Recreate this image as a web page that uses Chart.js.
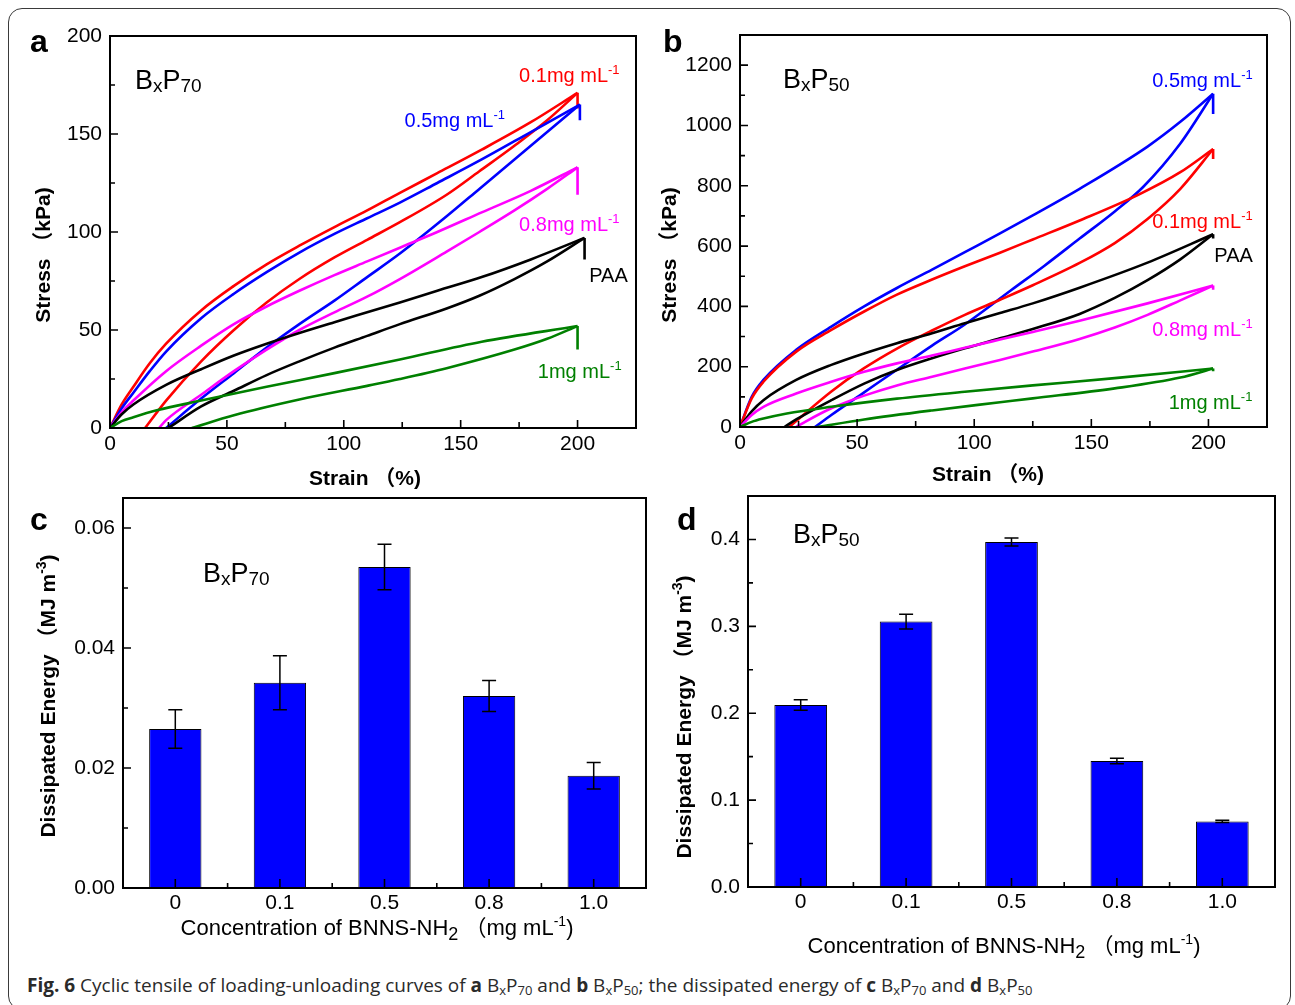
<!DOCTYPE html>
<html>
<head>
<meta charset="utf-8">
<script src="https://cdn.jsdelivr.net/npm/chart.js@4.4.1/dist/chart.umd.min.js"></script>
<style>
  body { margin: 0; background: #fff; }
  #page { position: relative; width: 1295px; height: 1005px; overflow: hidden; }
  #box { position: absolute; left: 8px; top: 8px; width: 1281px; height: 1000px;
         border: 1.5px solid #3a3a3a; border-radius: 14px; }
  canvas { position: absolute; }
  #cap { position: absolute; left: 27px; top: 972px; font-family: "Open Sans", sans-serif;
         font-size: 19px; color: #2a2a2a; white-space: nowrap; }
  #cap sub { font-size: 13px; vertical-align: -3px; line-height: 0; }
</style>
</head>
<body>
<div id="page">
  <div id="box"></div>
  <canvas id="pa" width="648" height="490" style="left:0;top:0"></canvas>
  <canvas id="pb" width="647" height="490" style="left:648px;top:0"></canvas>
  <canvas id="pc" width="648" height="470" style="left:0;top:490px"></canvas>
  <canvas id="pd" width="647" height="470" style="left:648px;top:490px"></canvas>
  <div id="cap"><b>Fig. 6</b> Cyclic tensile of loading-unloading curves of <b>a</b> B<sub>x</sub>P<sub>70</sub> and <b>b</b> B<sub>x</sub>P<sub>50</sub>; the dissipated energy of <b>c</b> B<sub>x</sub>P<sub>70</sub> and <b>d</b> B<sub>x</sub>P<sub>50</sub></div>
</div>
<script>
// ---- panel a: B_xP_70 loading / unloading loops, [strain %, stress kPa]
const aRedLoad = [[0,0],[5,12],[10,21],[17,33],[24,43],[39,60],[53,72.5],[67,83.5],[81,93],[96,102.5],[110,111],[124,120],[140,130],[159,142],[180,156],[200,171]];
const aRedUnload = [[200,171],[187,157],[173,144],[158,131],[144,119],[124,105],[110,96],[96,87],[81,76],[67,64],[53,50],[39,34],[24,14],[15,0]];
const aBlueLoad = [[0,0],[5,10],[10,18],[17,29],[24,39],[39,56],[53,68.5],[67,79.5],[81,89.5],[96,99],[110,107],[124,115],[140,125],[159,137],[180,151],[201,165]];
const aBlueUnload = [[201,165],[187,151],[173,137],[158,122],[144,108],[124,89],[110,77],[96,65],[81,53],[67,41],[53,28],[39,15],[24,0]];
const aMagentaLoad = [[0,0],[5,8],[10,14],[24,29],[39,42],[53,53],[67,62],[81,70],[96,78],[110,85],[124,92],[140,100],[159,110],[180,121],[200,133]];
const aMagentaUnload = [[200,133],[187,122],[173,111],[158,100],[144,90],[124,76],[110,67],[96,59],[81,50],[67,40],[53,29],[39,17],[24,4],[21,0]];
const aBlackLoad = [[0,0],[5,7],[10,12],[24,22],[39,30],[53,37],[67,43],[81,48.5],[96,54],[110,59],[124,64],[140,70],[159,77],[180,86],[203,97]];
const aBlackUnload = [[203,97],[187,85],[173,76],[158,67.5],[144,61],[124,53],[110,47],[96,41],[81,34],[67,27],[53,19],[39,11],[25,0]];
const aGreenLoad = [[0,0],[5,3.5],[10,5.5],[20,9],[39,14],[67,21],[96,28],[124,35],[159,44],[200,52]];
const aGreenUnload = [[200,52],[187,45.5],[173,40],[144,30.5],[124,25],[110,21.5],[81,14.5],[53,6.5],[35,0]];
// stress after the hold at max strain: red, blue, magenta, black, green
const aDrop = [163, 157, 119, 86, 40];

// ---- panel b: B_xP_50
const bRedLoad = [[0,0],[5,95],[10,150],[24,250],[39,322],[53,383],[67,439],[82,489],[96,533],[111,578],[125,622],[145,685],[170,770],[188,845],[202,922]];
const bRedUnload = [[202,922],[188,790],[174,690],[160,610],[145,544],[125,470],[111,422],[96,372],[82,320],[67,260],[53,195],[39,118],[24,20],[21,0]];
const bBlueLoad = [[0,0],[5,100],[10,156],[24,256],[39,333],[53,400],[67,461],[82,522],[96,580],[111,642],[125,702],[145,790],[174,930],[188,1012],[202,1105]];
const bBlueUnload = [[202,1105],[188,940],[172,795],[160,715],[145,625],[130,535],[116,455],[96,340],[82,270],[67,190],[53,115],[39,40],[32,0]];
const bMagentaLoad = [[0,0],[5,40],[10,67],[24,111],[39,150],[53,183],[67,211],[82,237],[96,263],[111,290],[125,315],[145,352],[174,410],[202,469]];
const bMagentaUnload = [[202,469],[188,420],[174,372],[160,330],[145,292],[125,250],[111,222],[96,194],[82,167],[67,138],[53,104],[39,62],[28,18],[24,0]];
const bBlackLoad = [[0,0],[5,52],[10,89],[24,156],[39,206],[53,244],[67,278],[82,311],[96,344],[111,378],[125,410],[145,462],[174,545],[202,639]];
const bBlackUnload = [[202,639],[188,556],[174,487],[160,428],[145,375],[125,325],[111,294],[96,261],[82,228],[67,189],[53,144],[39,89],[24,25],[19,0]];
const bGreenLoad = [[0,0],[5,17],[10,28],[20,45],[39,67],[67,94],[96,117],[125,138],[160,162],[202,194]];
const bGreenUnload = [[202,194],[188,164],[160,128],[125,95],[111,82],[82,55],[53,25],[33,0]];
const bDrop = [889, 1038, 455, 625, 185];

// ---- panels c, d: dissipated energy (MJ m^-3)
const concLabels = ['0', '0.1', '0.5', '0.8', '1.0'];
const energyP70 = [0.0265, 0.0342, 0.0535, 0.0320, 0.0187];
const errorP70 = [0.0032, 0.0045, 0.0038, 0.0026, 0.0022];
const energyP50 = [0.2095, 0.3055, 0.397, 0.145, 0.0755];
const errorP50 = [0.006, 0.0085, 0.0046, 0.0032, 0.0012];

const FONT = '"Liberation Sans", Arial, "Noto Sans CJK SC", sans-serif';
const RED = '#ff0000', BLUE = '#0000ff', MAGENTA = '#ff00ff', BLACK = '#000000', GREEN = '#008000';

Chart.defaults.font.family = FONT;
Chart.defaults.color = '#000';

// text with sub/superscript pieces; y is the baseline
function rich(ctx, parts, x, y, size, o) {
    o = o || {};
    const wt = o.bold ? 'bold ' : '';
    const fontOf = (m) => wt + (m === 'sub' ? (o.subSize || size * 0.7) : m === 'sup' ? (o.supSize || size * 0.62) : size) + 'px ' + FONT;
    let total = 0;
    const ws = parts.map((p) => {
        ctx.font = fontOf(p[1]);
        let w = ctx.measureText(p[0]).width;
        total += w;
        return w;
    });
    let cx = o.align === 'center' ? x - total / 2 : x;
    ctx.fillStyle = o.color || '#000';
    ctx.textAlign = 'left';
    ctx.textBaseline = 'alphabetic';
    parts.forEach((p, i) => {
        ctx.font = fontOf(p[1]);
        let dy = 0;
        if (p[1] === 'sub') dy = (o.subShift !== undefined ? o.subShift : size * 0.2);
        if (p[1] === 'sup') dy = -(o.supShift || size * 0.42);
        ctx.fillText(p[0], cx, y + dy);
        cx += ws[i];
    });
}

function centredTitle(ctx, parts, cx, cy, size, o, vertical) {
    ctx.save();
    ctx.translate(cx, cy);
    if (vertical) ctx.rotate(-Math.PI / 2);
    rich(ctx, parts, 0, size * 0.36, size, Object.assign({align: 'center'}, o));
    ctx.restore();
}

// closed frame with inward major / minor ticks, Origin style
const paperFrame = {
    id: 'paperFrame',
    afterDatasetsDraw(chart, args, opt) {
        const {ctx, chartArea: ca, scales} = chart;
        const x = scales.x, y = scales.y;
        ctx.save();
        ctx.strokeStyle = '#000';
        ctx.lineWidth = 1.6;
        ctx.beginPath();
        let n = Math.round((y.max - y.min) / opt.yMinor);
        for (let k = 1; k < n + 1; k++) {
            let v = y.min + k * opt.yMinor;
            if (v > y.max + 1e-9) break;
            let r = v / opt.yMajor;
            let len = Math.abs(r - Math.round(r)) < 1e-6 ? 8 : 5;
            let py = y.getPixelForValue(v);
            ctx.moveTo(ca.left, py);
            ctx.lineTo(ca.left + len, py);
        }
        if (x.type === 'category') {
            let count = chart.data.labels.length;
            let step = x.getPixelForValue(1) - x.getPixelForValue(0);
            for (let i = 0; i < count; i++) {
                let px = x.getPixelForValue(i);
                ctx.moveTo(px, ca.bottom);
                ctx.lineTo(px, ca.bottom - 9);
                if (i < count - 1) {
                    ctx.moveTo(px + step / 2, ca.bottom);
                    ctx.lineTo(px + step / 2, ca.bottom - 5);
                }
            }
        } else {
            let m = Math.round((x.max - x.min) / opt.xMinor);
            for (let k = 1; k < m; k++) {
                let v = x.min + k * opt.xMinor;
                let r = v / opt.xMajor;
                let len = Math.abs(r - Math.round(r)) < 1e-6 ? 8 : 6;
                let px = x.getPixelForValue(v);
                ctx.moveTo(px, ca.bottom);
                ctx.lineTo(px, ca.bottom - len);
            }
        }
        ctx.stroke();
        ctx.lineWidth = 2;
        ctx.strokeRect(ca.left, ca.top, ca.right - ca.left, ca.bottom - ca.top);
        ctx.restore();
    }
};

// error bars on the bar panels
function errorBars(errs) {
    return {
        id: 'errorBars',
        afterDatasetsDraw(chart) {
            const {ctx, scales: {x, y}} = chart;
            const vals = chart.data.datasets[0].data;
            ctx.save();
            ctx.strokeStyle = '#000';
            ctx.lineWidth = 1.5;
            ctx.beginPath();
            vals.forEach((v, i) => {
                let px = x.getPixelForValue(i);
                let top = y.getPixelForValue(v + errs[i]);
                let bot = y.getPixelForValue(v - errs[i]);
                ctx.moveTo(px, top); ctx.lineTo(px, bot);
                ctx.moveTo(px - 7, top); ctx.lineTo(px + 7, top);
                ctx.moveTo(px - 7, bot); ctx.lineTo(px + 7, bot);
            });
            ctx.stroke();
            ctx.restore();
        }
    };
}

// panel letter, sample name, axis titles and curve labels
function panelText(spec) {
    return {
        id: 'panelText',
        afterDraw(chart) {
            const ctx = chart.ctx;
            const {x, y} = chart.scales;
            ctx.save();
            rich(ctx, [[spec.letter]], spec.letterAt[0], spec.letterAt[1], 32, {bold: true});
            rich(ctx, [['B'], ['x', 'sub'], ['P'], [spec.sample, 'sub']], spec.sampleAt[0], spec.sampleAt[1], 27,
                 {subSize: 19, subShift: 3});
            centredTitle(ctx, spec.yTitle, spec.yTitleAt[0], spec.yTitleAt[1], 21, {bold: true, supSize: 14, supShift: 9}, true);
            centredTitle(ctx, spec.xTitle, spec.xTitleAt[0], spec.xTitleAt[1], spec.xTitleSize || 21,
                         {bold: spec.xTitleBold, subSize: 18, subShift: 5, supSize: 14, supShift: 9}, false);
            (spec.notes || []).forEach((nt) => {
                let px = x.getPixelForValue(nt.at[0]);
                let py = y.getPixelForValue(nt.at[1]);
                rich(ctx, nt.parts, px, py + 7, 20, {color: nt.color, supSize: 13, supShift: 8});
            });
            ctx.restore();
        }
    };
}

function pts(arr) {
    return arr.map((p) => ({x: p[0], y: p[1]}));
}

// loading branch, unloading branch (sorted by strain for monotone interpolation), hold drop
function loop(load, unload, drop, color) {
    const peak = load[load.length - 1];
    const base = {borderColor: color, backgroundColor: color, borderWidth: 2.6, pointRadius: 0, showLine: true, fill: false};
    return [
        Object.assign({data: pts(load), cubicInterpolationMode: 'monotone'}, base),
        Object.assign({data: pts(unload.slice().reverse()), cubicInterpolationMode: 'monotone'}, base),
        Object.assign({data: pts([peak, [peak[0], drop]]), tension: 0}, base)
    ];
}

function axisFit(size, horizontal) {
    return (s) => {
        if (horizontal) s.height = size; else s.width = size;
        s.paddingTop = 0; s.paddingBottom = 0; s.paddingLeft = 0; s.paddingRight = 0;
    };
}

function curveOptions(c) {
    return {
        responsive: false,
        animation: false,
        layout: {padding: {left: 0, top: c.top, right: c.right, bottom: 0}},
        plugins: {
            legend: {display: false},
            tooltip: {enabled: false},
            paperFrame: {xMajor: 50, xMinor: 25, yMajor: c.yStep, yMinor: c.yStep / 2}
        },
        scales: {
            x: {
                type: 'linear', min: 0, max: 225,
                afterFit: axisFit(c.xHeight, true),
                ticks: {stepSize: 50, includeBounds: false, autoSkip: false, maxRotation: 0, padding: 4,
                        font: {size: 21}, callback: (v) => String(v)},
                grid: {display: false, drawTicks: false},
                border: {display: false}
            },
            y: {
                type: 'linear', min: 0, max: c.yMax,
                afterFit: axisFit(c.yWidth, false),
                ticks: {stepSize: c.yStep, includeBounds: false, autoSkip: false, padding: 8,
                        font: {size: 21}, callback: (v) => String(v)},
                grid: {display: false, drawTicks: false},
                border: {display: false}
            }
        }
    };
}

function barOptions(c) {
    return {
        responsive: false,
        animation: false,
        layout: {padding: {left: 0, top: c.top, right: c.right, bottom: 0}},
        plugins: {
            legend: {display: false},
            tooltip: {enabled: false},
            paperFrame: {yMajor: c.yStep, yMinor: c.yStep / 2}
        },
        scales: {
            x: {
                type: 'category',
                afterFit: axisFit(c.xHeight, true),
                ticks: {autoSkip: false, maxRotation: 0, padding: 3, font: {size: 21}},
                grid: {display: false, drawTicks: false},
                border: {display: false}
            },
            y: {
                type: 'linear', min: 0, max: c.yMax,
                afterFit: axisFit(c.yWidth, false),
                ticks: {stepSize: c.yStep, includeBounds: false, autoSkip: false, padding: 8, font: {size: 21},
                        callback: (v) => v.toFixed(c.digits)},
                grid: {display: false, drawTicks: false},
                border: {display: false}
            }
        }
    };
}

const stressTitle = [['Stress （kPa)']];
const strainTitle = [['Strain （%)']];
const energyTitle = [['Dissipated Energy （MJ m'], ['-3', 'sup'], [')']];
const concTitle = [['Concentration of BNNS-NH'], ['2', 'sub'], [' （mg mL'], ['-1', 'sup'], [')']];

// a
new Chart(document.getElementById('pa'), {
    type: 'scatter',
    data: {datasets: [].concat(
        loop(aGreenLoad, aGreenUnload, aDrop[4], GREEN),
        loop(aBlackLoad, aBlackUnload, aDrop[3], BLACK),
        loop(aMagentaLoad, aMagentaUnload, aDrop[2], MAGENTA),
        loop(aBlueLoad, aBlueUnload, aDrop[1], BLUE),
        loop(aRedLoad, aRedUnload, aDrop[0], RED)
    )},
    options: curveOptions({top: 36, right: 12, xHeight: 62, yWidth: 110, yMax: 200, yStep: 50}),
    plugins: [paperFrame, panelText({
        letter: 'a', letterAt: [30, 52], sample: '70', sampleAt: [135, 89],
        yTitle: stressTitle, yTitleAt: [42, 255], xTitle: strainTitle, xTitleAt: [365, 477], xTitleBold: true,
        notes: [
            {parts: [['0.1mg mL'], ['-1', 'sup']], at: [175, 180], color: RED},
            {parts: [['0.5mg mL'], ['-1', 'sup']], at: [126, 157], color: BLUE},
            {parts: [['0.8mg mL'], ['-1', 'sup']], at: [175, 104], color: MAGENTA},
            {parts: [['PAA']], at: [205, 78], color: BLACK},
            {parts: [['1mg mL'], ['-1', 'sup']], at: [183, 29], color: GREEN}
        ]
    })]
});

// b
new Chart(document.getElementById('pb'), {
    type: 'scatter',
    data: {datasets: [].concat(
        loop(bGreenLoad, bGreenUnload, bDrop[4], GREEN),
        loop(bMagentaLoad, bMagentaUnload, bDrop[2], MAGENTA),
        loop(bBlackLoad, bBlackUnload, bDrop[3], BLACK),
        loop(bRedLoad, bRedUnload, bDrop[0], RED),
        loop(bBlueLoad, bBlueUnload, bDrop[1], BLUE)
    )},
    options: curveOptions({top: 35, right: 28, xHeight: 63, yWidth: 92, yMax: 1300, yStep: 200}),
    plugins: [paperFrame, panelText({
        letter: 'b', letterAt: [15, 52], sample: '50', sampleAt: [135, 88],
        yTitle: stressTitle, yTitleAt: [20, 255], xTitle: strainTitle, xTitleAt: [340, 473], xTitleBold: true,
        notes: [
            {parts: [['0.5mg mL'], ['-1', 'sup']], at: [176, 1152], color: BLUE},
            {parts: [['0.1mg mL'], ['-1', 'sup']], at: [176, 682], color: RED},
            {parts: [['PAA']], at: [202.5, 569], color: BLACK},
            {parts: [['0.8mg mL'], ['-1', 'sup']], at: [176, 326], color: MAGENTA},
            {parts: [['1mg mL'], ['-1', 'sup']], at: [183, 82], color: GREEN}
        ]
    })]
});

// c
new Chart(document.getElementById('pc'), {
    type: 'bar',
    data: {labels: concLabels, datasets: [{
        data: energyP70, backgroundColor: BLUE, borderColor: '#000', borderWidth: 1,
        barPercentage: 0.5, categoryPercentage: 1
    }]},
    options: barOptions({top: 8, right: 2, xHeight: 72, yWidth: 123, yMax: 0.065, yStep: 0.02, digits: 2}),
    plugins: [errorBars(errorP70), paperFrame, panelText({
        letter: 'c', letterAt: [30, 40], sample: '70', sampleAt: [203, 92],
        yTitle: energyTitle, yTitleAt: [47, 206], xTitle: concTitle, xTitleAt: [377, 437], xTitleBold: false, xTitleSize: 22
    })]
});

// d
new Chart(document.getElementById('pd'), {
    type: 'bar',
    data: {labels: concLabels, datasets: [{
        data: energyP50, backgroundColor: BLUE, borderColor: '#000', borderWidth: 1,
        barPercentage: 0.5, categoryPercentage: 1
    }]},
    options: barOptions({top: 6, right: 20, xHeight: 73, yWidth: 100, yMax: 0.45, yStep: 0.1, digits: 1}),
    plugins: [errorBars(errorP50), paperFrame, panelText({
        letter: 'd', letterAt: [29, 40], sample: '50', sampleAt: [145, 53],
        yTitle: energyTitle, yTitleAt: [35, 227], xTitle: concTitle, xTitleAt: [356, 455], xTitleBold: false, xTitleSize: 22
    })]
});
</script>
</body>
</html>
